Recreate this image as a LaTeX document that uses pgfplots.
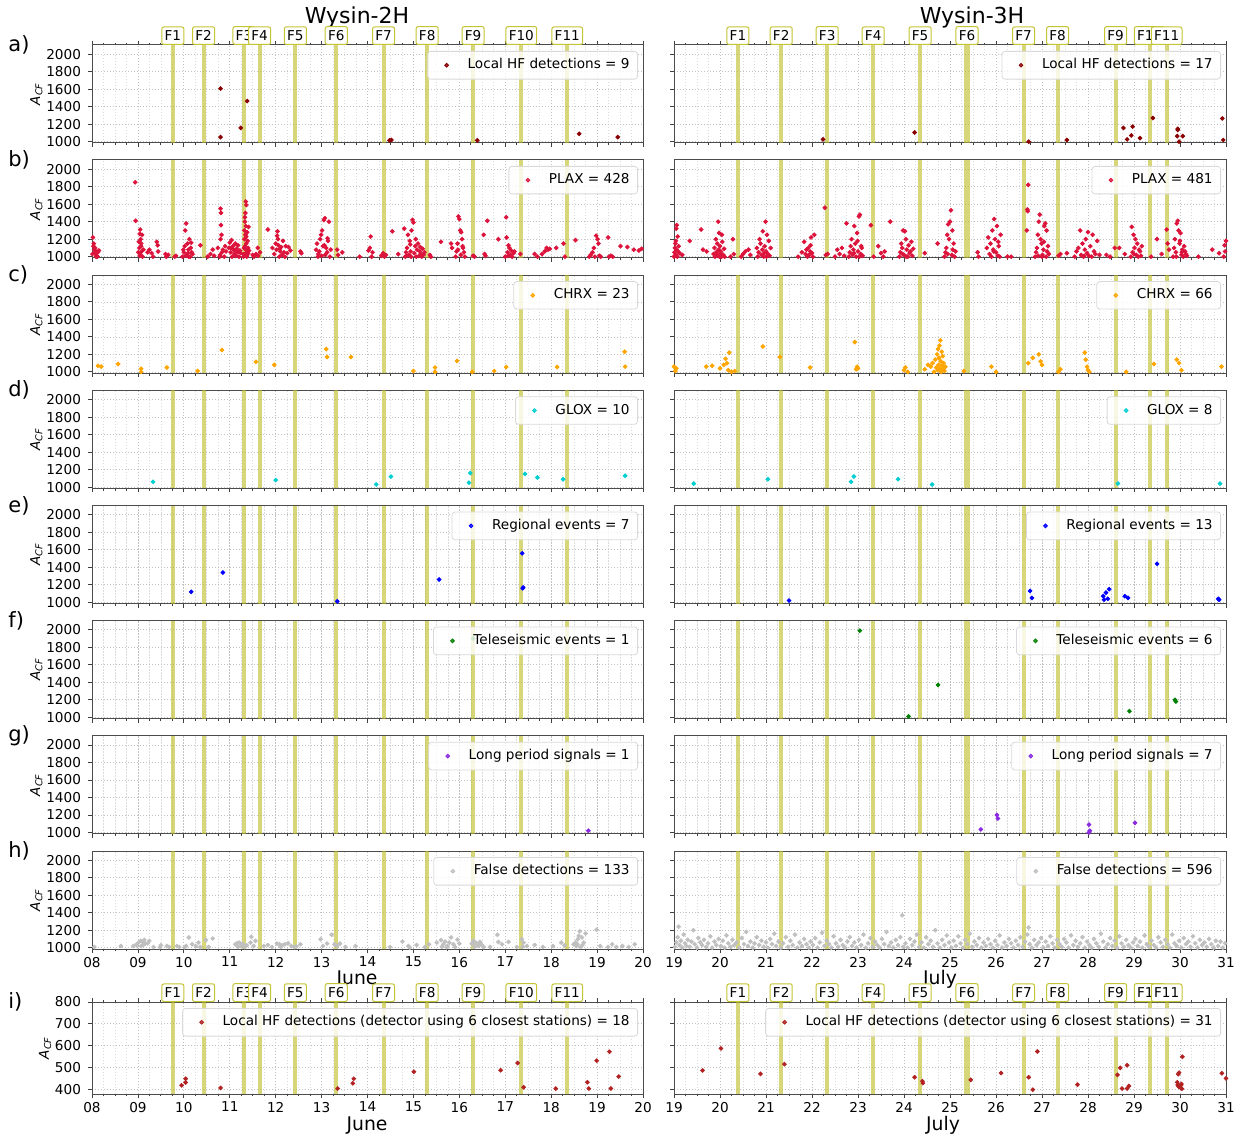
\documentclass[border=0pt]{standalone}
\usepackage{fontspec}
\setmainfont{DejaVu Sans}
\usepackage{pgfplots}
\pgfplotsset{compat=1.18}

\definecolor{hfred}{RGB}{139,0,0}
\definecolor{plax}{RGB}{220,20,60}
\definecolor{chrx}{RGB}{255,165,0}
\definecolor{glox}{RGB}{0,206,209}
\definecolor{regio}{RGB}{0,0,255}
\definecolor{teles}{RGB}{0,128,0}
\definecolor{lper}{RGB}{138,43,226}
\definecolor{fals}{RGB}{192,192,192}
\definecolor{hfsix}{RGB}{178,34,34}
\definecolor{bandc}{RGB}{188,189,34}
\definecolor{flabc}{RGB}{196,196,52}

\newcommand\fsTick{\fontsize{6.8}{8}\selectfont}
\newcommand\fsTitle{\fontsize{11}{13}\selectfont}
\newcommand\fsLetter{\fontsize{10.5}{12}\selectfont}
\newcommand\fsMonth{\fontsize{9.4}{11}\selectfont}
\newcommand\acf{\textit{A}\textsubscript{\textit{CF}}}

\tikzset{
  flab/.style={draw=flabc, line width=0.5pt, fill=white, rounded corners=1pt,
    inner xsep=1.4pt, inner ysep=1.9pt, anchor=south, font=\fsTick},
}
\pgfplotsset{
  panel/.style={
    scale only axis, clip mode=individual,
    minor x tick num=3, minor y tick num=0,
    grid=both,
    major grid style={line width=0.35pt, black!24, dash pattern=on 0.7pt off 0.8pt},
    minor grid style={line width=0.3pt, black!14, dash pattern=on 0.7pt off 0.8pt},
    axis line style={line width=0.5pt, black!70},
    every tick/.style={black!75, line width=0.4pt},
    tick align=outside, major tick length=2pt, minor tick length=1.2pt,
    xtick pos=bottom, ytick pos=left,
    tick label style={font=\fsTick},
    xticklabel style={yshift=1.5pt},
    xticklabels={},
    ylabel style={font=\fsTick}, ylabel shift=-5pt,
    legend style={at={(1,1)}, anchor=north east, xshift=-2.5pt, yshift=-3pt,
      draw=black!15, rounded corners=1.5pt, fill=white, fill opacity=0.8,
      text opacity=1, font=\fsTick, inner xsep=2pt, inner ysep=1.6pt},
    legend cell align=left,
    legend image code/.code={%
      \path[draw=none, fill=none] (0pt,-2pt) rectangle (16pt,2pt);
      \draw[#1] plot coordinates {(7.5pt,0pt)};},
  },
  junecol/.style={panel, xmin=8, xmax=20, xtick={8,...,20}, width=275.5pt},
  julycol/.style={panel, xmin=19, xmax=31, xtick={19,...,31}, width=276pt,
    yticklabels={}},
  acf/.style={ymin=985, ymax=2105, ytick={1000,1200,...,2000}, height=49pt},
  acfL/.style={acf, yticklabels={1000,1200,1400,1600,1800,2000}, ylabel={\acf}},
  sixst/.style={ymin=378, ymax=800, ytick={400,500,...,800}, height=46pt},
  pts/.style={only marks, mark=*, mark size=0.95pt},
}

% event windows F1--F11
\newcommand\juneBands[2]{%
  \fill[bandc, opacity=0.6] (axis cs:9.715,#1) rectangle (axis cs:9.805,#2);
  \fill[bandc, opacity=0.6] (axis cs:10.385,#1) rectangle (axis cs:10.475,#2);
  \fill[bandc, opacity=0.6] (axis cs:11.265,#1) rectangle (axis cs:11.355,#2);
  \fill[bandc, opacity=0.6] (axis cs:11.605,#1) rectangle (axis cs:11.695,#2);
  \fill[bandc, opacity=0.6] (axis cs:12.385,#1) rectangle (axis cs:12.475,#2);
  \fill[bandc, opacity=0.6] (axis cs:13.275,#1) rectangle (axis cs:13.365,#2);
  \fill[bandc, opacity=0.6] (axis cs:14.305,#1) rectangle (axis cs:14.395,#2);
  \fill[bandc, opacity=0.6] (axis cs:15.255,#1) rectangle (axis cs:15.345,#2);
  \fill[bandc, opacity=0.6] (axis cs:16.255,#1) rectangle (axis cs:16.345,#2);
  \fill[bandc, opacity=0.6] (axis cs:17.305,#1) rectangle (axis cs:17.395,#2);
  \fill[bandc, opacity=0.6] (axis cs:18.305,#1) rectangle (axis cs:18.395,#2);
}
\newcommand\julyBands[2]{%
  \fill[bandc, opacity=0.6] (axis cs:20.345,#1) rectangle (axis cs:20.435,#2);
  \fill[bandc, opacity=0.6] (axis cs:21.285,#1) rectangle (axis cs:21.375,#2);
  \fill[bandc, opacity=0.6] (axis cs:22.285,#1) rectangle (axis cs:22.375,#2);
  \fill[bandc, opacity=0.6] (axis cs:23.285,#1) rectangle (axis cs:23.375,#2);
  \fill[bandc, opacity=0.6] (axis cs:24.300,#1) rectangle (axis cs:24.400,#2);
  \fill[bandc, opacity=0.6] (axis cs:25.310,#1) rectangle (axis cs:25.430,#2);
  \fill[bandc, opacity=0.6] (axis cs:26.555,#1) rectangle (axis cs:26.645,#2);
  \fill[bandc, opacity=0.6] (axis cs:27.295,#1) rectangle (axis cs:27.385,#2);
  \fill[bandc, opacity=0.6] (axis cs:28.555,#1) rectangle (axis cs:28.645,#2);
  \fill[bandc, opacity=0.6] (axis cs:29.295,#1) rectangle (axis cs:29.385,#2);
  \fill[bandc, opacity=0.6] (axis cs:29.665,#1) rectangle (axis cs:29.755,#2);
}
\newcommand\juneLabels[1]{%
  \node[flab] at (axis cs:9.76,#1) {F1};
  \node[flab] at (axis cs:10.43,#1) {F2};
  \node[flab] at (axis cs:11.31,#1) {F3};
  \node[flab] at (axis cs:11.65,#1) {F4};
  \node[flab] at (axis cs:12.43,#1) {F5};
  \node[flab] at (axis cs:13.32,#1) {F6};
  \node[flab] at (axis cs:14.35,#1) {F7};
  \node[flab] at (axis cs:15.30,#1) {F8};
  \node[flab] at (axis cs:16.30,#1) {F9};
  \node[flab] at (axis cs:17.35,#1) {F10};
  \node[flab] at (axis cs:18.35,#1) {F11};
}
\newcommand\julyLabels[1]{%
  \node[flab] at (axis cs:20.39,#1) {F1};
  \node[flab] at (axis cs:21.33,#1) {F2};
  \node[flab] at (axis cs:22.33,#1) {F3};
  \node[flab] at (axis cs:23.33,#1) {F4};
  \node[flab] at (axis cs:24.35,#1) {F5};
  \node[flab] at (axis cs:25.37,#1) {F6};
  \node[flab] at (axis cs:26.60,#1) {F7};
  \node[flab] at (axis cs:27.34,#1) {F8};
  \node[flab] at (axis cs:28.60,#1) {F9};
  \node[flab] at (axis cs:29.34,#1) {F10};
  \node[flab] at (axis cs:29.71,#1) {F11};
}

\begin{document}
\begin{tikzpicture}
\useasboundingbox (0,0) rectangle (622.5pt,568pt);

% titles, panel letters and month labels
\node[font=\fsTitle] at (178.5pt,559.5pt) {Wysin-2H};
\node[font=\fsTitle] at (486pt,559.5pt) {Wysin-3H};
\foreach \l/\y in {a/545.5, b/488, c/430.4, d/372.8, e/315.2, f/257.7, g/200.1, h/142.5, i/67}
  \node[font=\fsLetter, anchor=west, inner sep=0pt] at (4pt,\y pt) {\l)};
\node[font=\fsMonth] at (178.5pt,78.3pt) {June};
\node[font=\fsMonth] at (470pt,78.3pt) {July};
\node[font=\fsMonth] at (183.5pt,5.2pt) {June};
\node[font=\fsMonth] at (471.5pt,5.2pt) {July};

% ---------------- a) local HF detections
\begin{axis}[junecol, acfL, xtick pos=both, at={(46pt,545.5pt)}, anchor=north west]
\juneBands{985}{2105}
\juneLabels{2105}
\addplot[pts, hfred] coordinates {(10.80,1607) (10.80,1052) (11.24,1157) (11.38,1464)
  (14.48,1015) (14.52,1020) (16.39,1015) (18.61,1090) (19.45,1052)};
\addlegendentry{Local HF detections = 9}
\end{axis}
\begin{axis}[julycol, acf, xtick pos=both, at={(337pt,545.5pt)}, anchor=north west]
\julyBands{985}{2105}
\julyLabels{2105}
\addplot[pts, hfred] coordinates {(22.24,1026) (24.23,1105) (26.71,1000) (27.54,1019)
  (28.77,1157) (28.97,1172) (28.85,1026) (28.94,1071) (29.13,1041) (29.41,1270)
  (29.95,1146) (29.95,1135) (29.94,1064) (30.06,1064) (29.98,1000) (30.92,1266) (30.94,1019)};
\addlegendentry{Local HF detections = 17}
\end{axis}

% ---------------- b) PLAX
\begin{axis}[junecol, acfL, at={(46pt,488pt)}, anchor=north west]
\juneBands{985}{2105}
\addplot[pts, plax] coordinates {
(8.02,1220) (8.03,1120) (8.05,1080) (8.06,1040) (8.08,1060) (8.10,1010) (8.12,1000) (8.04,1150)
(8.07,1100) (8.13,1050) (8.01,1030) (8.09,1000) (8.15,1070)
(8.94,1850) (8.95,1410)
(9.02,1170) (9.04,1260) (9.05,1310) (9.06,1200) (9.07,1150) (9.03,1100) (9.08,1060) (9.05,1030)
(9.10,1000) (9.09,1250) (9.01,1050) (9.12,1080) (9.07,1120) (9.04,1010)
(9.21,1050) (9.25,1080) (9.30,1040) (9.33,1000) (9.41,1170) (9.43,1130) (9.44,1060)
(9.60,1030) (9.62,1000) (9.66,1020) (9.80,1000) (9.83,1010)
(9.97,1000) (10.00,1050) (10.02,1120) (10.03,1300) (10.05,1380) (10.06,1020) (10.08,1150)
(10.10,1080) (10.12,1200) (10.14,1000) (10.15,1100) (10.17,1050) (10.19,1030) (10.04,1010)
(10.09,1040) (10.11,1000) (10.16,1160) (9.99,1080)
(10.36,1130) (10.52,1000) (10.58,1030) (10.63,1080) (10.66,1010)
(10.74,1100) (10.78,1000) (10.80,1550) (10.81,1500) (10.81,1360) (10.82,1250) (10.80,1200)
(10.83,1050) (10.85,1080) (10.79,1020) (10.88,1000) (10.90,1120) (10.92,1060)
(10.98,1100) (11.00,1160) (11.02,1050) (11.04,1190) (11.05,1000) (11.07,1120) (11.08,1080)
(11.10,1030) (11.12,1150) (11.13,1010) (11.15,1090) (11.17,1050) (11.18,1130) (11.20,1000)
(11.22,1070) (11.24,1040) (11.03,1100) (11.11,1070)
(11.30,1000) (11.31,1100) (11.32,1200) (11.32,1300) (11.33,1400) (11.33,1450) (11.34,1500)
(11.35,1630) (11.36,1590) (11.35,1350) (11.34,1250) (11.36,1150) (11.37,1050) (11.38,1280)
(11.38,1020) (11.39,1180) (11.40,1100) (11.41,1340) (11.42,1070) (11.31,1030) (11.33,1120)
(11.36,1230) (11.37,1000) (11.40,1040) (11.35,1080)
(11.50,1020) (11.53,1000) (11.57,1030) (11.61,1100) (11.62,1010) (11.66,1050) (11.83,1310)
(11.93,1100) (11.97,1030) (12.00,1150) (12.02,1080) (12.04,1290) (12.05,1200) (12.06,1130)
(12.08,1000) (12.10,1060) (12.12,1110) (12.14,1020) (12.16,1180) (12.18,1050) (12.20,1000)
(12.22,1120) (12.25,1040) (12.03,1240) (12.09,1090) (12.28,1110) (12.32,1070)
(12.54,1060) (12.56,1040)
(12.88,1080) (12.90,1150) (12.92,1000) (12.95,1060) (12.97,1200) (12.99,1250) (13.01,1300)
(13.03,1120) (13.05,1420) (13.07,1440) (13.08,1020) (13.10,1100) (13.12,1050) (13.14,1180)
(13.16,1400) (13.18,1000) (13.20,1080) (12.93,1030) (13.00,1010) (13.06,1130) (13.13,1210)
(13.34,1080) (13.36,1020) (13.45,1050) (13.83,1000)
(14.02,1070) (14.05,1100) (14.07,1230) (14.09,1000) (14.11,1050)
(14.30,1010) (14.34,1040) (14.37,1000) (14.40,1020) (14.54,1290) (14.67,1030)
(14.80,1320) (14.82,1000) (14.84,1050) (14.86,1100) (14.88,1250) (14.90,1020) (14.92,1180)
(14.94,1060) (14.96,1300) (14.98,1420) (15.00,1390) (15.02,1040) (15.04,1120) (15.06,1000)
(15.08,1080) (15.10,1150) (15.12,1010) (15.14,1060) (15.16,1030) (15.18,1000) (15.20,1090)
(15.22,1020) (15.24,1050) (14.85,1010) (14.95,1000) (15.05,1200) (15.15,1110) (14.93,1140)
(15.36,1020) (15.38,1000) (15.60,1170) (15.82,1150) (15.84,1100)
(15.92,1000) (15.94,1060) (15.96,1150) (15.98,1460) (16.00,1430) (16.02,1300) (16.04,1280)
(16.06,1200) (16.08,1100) (16.10,1050) (16.12,1000) (15.97,1080) (16.03,1020) (16.07,1120)
(16.30,1010) (16.33,1000) (16.53,1250) (16.55,1030) (16.57,1010) (16.61,1410) (16.85,1200)
(17.00,1000) (17.02,1450) (17.03,1220) (17.05,1050) (17.07,1130) (17.09,1100) (17.11,1020)
(17.13,1070) (17.15,1000) (17.18,1040) (17.20,1060) (17.06,1010) (17.33,1030)
(17.64,1030) (17.70,1000) (17.80,1030) (17.86,1060) (17.90,1100) (17.93,1080) (17.97,1090)
(18.11,1100) (18.27,1150) (18.30,1000) (18.53,1190)
(18.83,1000) (18.86,1020) (18.90,1050) (18.93,1100) (18.95,1000) (18.98,1240) (19.01,1200)
(19.03,1150) (19.05,1010) (19.08,1000) (19.24,1220) (19.26,1000) (19.30,1010) (19.34,1000)
(19.51,1120) (19.66,1110) (19.80,1080) (19.91,1070) (19.97,1090)};
\addlegendentry{PLAX = 428}
\end{axis}
\begin{axis}[julycol, acf, at={(337pt,488pt)}, anchor=north west]
\julyBands{985}{2105}
\addplot[pts, plax] coordinates {
(19.00,1000) (19.01,1050) (19.02,1100) (19.03,1150) (19.04,1020) (19.05,1080) (19.06,1360)
(19.05,1320) (19.08,1230) (19.07,1000) (19.09,1060) (19.10,1120) (19.02,1010) (19.04,1180)
(19.12,1040) (19.18,1020) (19.34,1180) (19.59,1310) (19.63,1080) (19.71,1060)
(19.86,1030) (19.88,1100) (19.89,1000) (19.91,1200) (19.92,1050) (19.94,1150) (19.95,1010)
(19.96,1400) (19.97,1080) (19.98,1270) (19.99,1000) (20.00,1120) (20.01,1040) (20.02,1060)
(20.03,1000) (20.05,1170) (20.07,1020) (20.09,1090) (20.10,1000) (19.93,1030) (20.04,1250)
(20.23,1000) (20.28,1200) (20.30,1030) (20.46,1000) (20.50,1030) (20.55,1060) (20.62,1080)
(20.66,1020)
(20.80,1100) (20.82,1000) (20.84,1050) (20.86,1200) (20.88,1150) (20.90,1020) (20.92,1080)
(20.93,1290) (20.95,1000) (20.97,1120) (20.99,1400) (21.00,1060) (21.02,1250) (21.04,1030)
(21.06,1180) (21.08,1010) (21.10,1100) (20.96,1040) (21.01,1000)
(21.70,1000) (21.78,1050) (21.83,1170) (21.86,1030) (21.88,1080) (21.90,1000) (21.92,1100)
(21.94,1020) (21.96,1060) (21.98,1220) (22.00,1040) (22.02,1000) (22.05,1250) (21.89,1010)
(21.97,1130)
(22.28,1560) (22.30,1020) (22.34,1030) (22.50,1000) (22.55,1080) (22.60,1030) (22.65,1100)
(22.70,1010) (22.75,1380)
(22.80,1000) (22.82,1050) (22.84,1120) (22.86,1200) (22.88,1020) (22.90,1080) (22.92,1350)
(22.94,1150) (22.96,1000) (22.98,1270) (23.00,1060) (23.02,1460) (23.04,1480) (23.06,1030)
(23.08,1100) (23.10,1010) (22.91,1040) (22.99,1180) (23.03,1000) (23.07,1120)
(23.28,1360) (23.34,1000) (23.44,1120) (23.50,1040) (23.55,1000) (23.58,1060) (23.70,1400)
(23.90,1000) (23.92,1050) (23.94,1150) (23.96,1100) (23.98,1300) (24.00,1020) (24.02,1290)
(24.04,1200) (24.06,1080) (24.08,1000) (24.10,1130) (24.12,1040) (24.14,1060) (24.16,1170)
(24.18,1010) (24.20,1090) (23.97,1030) (24.05,1000)
(24.45,1040) (24.73,1150)
(24.88,1000) (24.90,1050) (24.92,1100) (24.94,1250) (24.96,1370) (24.98,1200) (25.00,1400)
(25.02,1530) (25.04,1020) (25.06,1080) (25.08,1150) (25.10,1000) (25.12,1060) (24.95,1030)
(25.05,1300)
(25.60,1050) (25.62,1000)
(25.80,1100) (25.83,1220) (25.86,1030) (25.88,1150) (25.90,1000) (25.92,1300) (25.94,1080)
(25.96,1430) (25.98,1200) (26.00,1050) (26.02,1350) (26.04,1010) (26.06,1120) (26.08,1000)
(26.10,1250) (25.95,1060) (26.05,1170)
(26.25,1000) (26.33,1000) (26.67,1300) (26.68,1540) (26.69,1520) (26.70,1820)
(26.85,1000) (26.87,1050) (26.89,1100) (26.91,1250) (26.93,1400) (26.95,1480) (26.97,1200)
(26.99,1150) (27.01,1020) (27.03,1080) (27.05,1350) (27.07,1380) (27.09,1000) (27.11,1060)
(27.13,1120) (27.15,1030) (26.92,1010) (27.00,1000) (27.04,1170) (27.10,1300)
(27.36,1010) (27.40,1030) (27.54,1040)
(27.71,1000) (27.75,1060) (27.79,1100) (27.83,1300) (27.85,1020) (27.88,1150) (27.90,1000)
(27.93,1080) (27.95,1200) (27.98,1040) (28.00,1280) (28.02,1010) (28.05,1120) (28.08,1000)
(28.10,1250) (28.13,1060) (28.16,1030) (28.20,1180) (28.25,1020) (27.92,1010)
(28.40,1020) (28.48,1000) (28.58,1100) (28.68,1100) (28.80,1030)
(28.93,1000) (28.95,1340) (28.97,1050) (28.99,1250) (29.01,1100) (29.03,1200) (29.05,1020)
(29.07,1150) (29.09,1000) (29.11,1080) (29.13,1060) (29.15,1010) (29.17,1120) (29.00,1030)
(29.37,1000) (29.50,1200) (29.60,1030) (29.71,1310) (29.73,1150) (29.76,1080)
(29.85,1000) (29.87,1100) (29.89,1200) (29.91,1050) (29.93,1380) (29.95,1410) (29.97,1300)
(29.99,1150) (30.01,1270) (30.03,1020) (30.05,1080) (30.07,1000) (30.09,1120) (30.11,1060)
(30.13,1030) (30.15,1010) (29.92,1000) (30.00,1180) (30.04,1050)
(30.40,1000) (30.70,1080) (30.85,1040) (30.95,1000) (30.97,1130) (31.00,1180) (30.98,1060)};
\addlegendentry{PLAX = 481}
\end{axis}

% ---------------- c) CHRX
\begin{axis}[junecol, acfL, at={(46pt,430.4pt)}, anchor=north west]
\juneBands{985}{2105}
\addplot[pts, chrx] coordinates {(8.13,1070) (8.20,1060) (8.57,1090) (9.07,1035) (9.07,1000)
  (9.63,1050) (10.30,1010) (10.83,1250) (11.57,1115) (11.97,1080) (13.10,1260) (13.12,1170)
  (13.64,1170) (15.00,1010) (15.47,1050) (15.47,1000) (15.95,1125) (16.28,1000) (16.76,1010)
  (17.02,1055) (18.13,1055) (19.60,1230) (19.61,1060)};
\addlegendentry{CHRX = 23}
\end{axis}
\begin{axis}[julycol, acf, at={(337pt,430.4pt)}, anchor=north west]
\julyBands{985}{2105}
\addplot[pts, chrx] coordinates {(19.00,1060) (19.03,1010) (19.05,1040) (19.70,1060)
  (19.83,1070) (20.00,1040) (20.08,1080) (20.12,1150) (20.15,1100) (20.18,1020) (20.20,1220)
  (20.25,1000) (20.32,1010) (20.93,1290) (21.30,1170) (21.96,1050) (22.93,1340) (22.96,1030)
  (22.98,1060) (23.00,1040) (24.00,1020) (24.03,1050) (24.08,1000) (24.45,1030) (24.52,1080)
  (24.58,1060) (24.62,1100) (24.65,1000) (24.68,1140) (24.70,1050) (24.72,1200) (24.73,1020)
  (24.74,1260) (24.75,1080) (24.76,1160) (24.77,1300) (24.78,1040) (24.79,1360) (24.80,1120)
  (24.81,1000) (24.82,1230) (24.83,1070) (24.84,1180) (24.85,1030) (24.86,1100) (24.88,1010)
  (24.90,1060) (25.30,1010) (25.90,1060) (26.00,1000) (26.70,1100) (26.80,1160) (26.93,1200)
  (26.97,1120) (27.00,1080) (27.36,1000) (27.40,1030) (27.93,1220) (27.95,1140) (27.98,1060)
  (28.00,1020) (28.03,1000) (28.83,1000) (29.43,1090) (29.93,1140) (29.98,1100) (30.03,1020)
  (30.90,1060)};
\addlegendentry{CHRX = 66}
\end{axis}

% ---------------- d) GLOX
\begin{axis}[junecol, acfL, at={(46pt,372.8pt)}, anchor=north west]
\juneBands{985}{2105}
\addplot[pts, glox] coordinates {(9.33,1060) (12.00,1080) (14.19,1030) (14.51,1120)
  (16.24,1160) (16.21,1050) (17.43,1150) (17.70,1110) (18.26,1090) (19.61,1130)};
\addlegendentry{GLOX = 10}
\end{axis}
\begin{axis}[julycol, acf, at={(337pt,372.8pt)}, anchor=north west]
\julyBands{985}{2105}
\addplot[pts, glox] coordinates {(19.43,1040) (21.04,1090) (22.85,1060) (22.91,1120)
  (23.87,1090) (24.61,1030) (28.65,1040) (30.87,1040)};
\addlegendentry{GLOX = 8}
\end{axis}

% ---------------- e) regional events
\begin{axis}[junecol, acfL, at={(46pt,315.2pt)}, anchor=north west]
\juneBands{985}{2105}
\addplot[pts, regio] coordinates {(10.16,1120) (10.85,1340) (13.34,1010) (15.56,1260)
  (17.37,1560) (17.39,1170) (17.38,1160)};
\addlegendentry{Regional events = 7}
\end{axis}
\begin{axis}[julycol, acf, at={(337pt,315.2pt)}, anchor=north west]
\julyBands{985}{2105}
\addplot[pts, regio] coordinates {(21.50,1020) (26.74,1130) (26.78,1050) (28.33,1070)
  (28.39,1110) (28.46,1150) (28.43,1040) (28.35,1030) (28.80,1070) (28.87,1050) (29.50,1440)
  (30.83,1040) (30.85,1030)};
\addlegendentry{Regional events = 13}
\end{axis}

% ---------------- f) teleseismic events
\begin{axis}[junecol, acfL, at={(46pt,257.7pt)}, anchor=north west]
\juneBands{985}{2105}
\addplot[pts, teles] coordinates {(16.30,1900)};
\addlegendentry{Teleseismic events = 1}
\end{axis}
\begin{axis}[julycol, acf, at={(337pt,257.7pt)}, anchor=north west]
\julyBands{985}{2105}
\addplot[pts, teles] coordinates {(23.04,1990) (24.74,1370) (24.10,1010) (28.90,1070)
  (29.89,1200) (29.91,1180)};
\addlegendentry{Teleseismic events = 6}
\end{axis}

% ---------------- g) long period signals
\begin{axis}[junecol, acfL, at={(46pt,200.1pt)}, anchor=north west]
\juneBands{985}{2105}
\addplot[pts, lper] coordinates {(18.81,1020)};
\addlegendentry{Long period signals = 1}
\end{axis}
\begin{axis}[julycol, acf, at={(337pt,200.1pt)}, anchor=north west]
\julyBands{985}{2105}
\addplot[pts, lper] coordinates {(25.67,1035) (26.02,1200) (26.04,1160) (28.02,1090)
  (28.04,1020) (28.02,1000) (29.02,1110)};
\addlegendentry{Long period signals = 7}
\end{axis}

% ---------------- h) false detections
\begin{axis}[junecol, acfL, at={(46pt,142.5pt)}, anchor=north west,
  xticklabels={08,09,10,11,12,13,14,15,16,17,18,19,20}]
\juneBands{985}{2105}
\addplot[pts, fals] coordinates {
(8.05,1008) (8.63,1019) (8.90,1019) (8.97,1039) (9.01,1058) (9.06,1078) (9.10,1066) (9.14,1089)
(9.16,1047) (9.07,1019) (8.99,1019) (9.21,1051) (9.25,1078) (9.34,1008) (9.50,1027) (9.63,1019)
(9.68,1008) (9.85,1019) (9.90,1008) (10.05,1019) (10.11,1117) (10.18,1039) (10.26,1019)
(10.32,1058) (10.36,1008) (10.48,1089) (10.54,1008) (10.63,1105) (11.12,1039) (11.16,1051)
(11.21,1058) (11.25,1019) (11.29,1039) (11.32,1008) (11.37,1027) (11.45,1058) (11.47,1124)
(11.52,1019) (11.56,1078) (11.74,1019) (11.83,1031) (11.92,1008) (12.03,1047) (12.08,1039)
(12.14,1027) (12.20,1039) (12.27,1051) (12.34,1019) (12.40,1008) (12.54,1039) (12.98,1097)
(13.03,1019) (13.12,1047) (13.22,1148) (13.28,1039) (13.34,1019) (13.40,1047) (13.52,1008)
(13.74,1019) (14.49,1008) (14.76,1070) (14.89,1019) (15.07,1031) (15.25,1008) (15.34,1039)
(15.51,1058) (15.60,1086) (15.65,1039) (15.69,1070) (15.74,1019) (15.78,1058) (15.82,1117)
(15.87,1039) (15.91,1008) (15.96,1093) (16.00,1047) (16.27,1047) (16.31,1078) (16.36,1058)
(16.40,1039) (16.45,1066) (16.49,1031) (16.53,1008) (16.67,1008) (16.83,1148) (16.85,1066)
(16.93,1039) (17.07,1066) (17.25,1008) (17.36,1097) (17.40,1058) (17.47,1019) (17.64,1031)
(17.82,1008) (18.04,1019) (18.22,1058) (18.29,1027) (18.49,1039) (18.53,1058) (18.58,1097)
(18.60,1136) (18.62,1187) (18.67,1117) (18.71,1058) (18.55,1019) (18.75,1163) (18.64,1008)
(18.99,1206) (19.07,1019) (19.24,1008) (19.33,1039) (19.42,1008) (19.55,1019) (19.69,1008)
(19.82,1039) (9.12,1030) (11.18,1010) (11.27,1045) (15.72,1005) (16.33,1012) (18.57,1040)
(10.02,1005) (12.11,1010) (13.30,1030) (15.62,1010) (16.42,1020) (17.38,1010) (18.68,1030)
(14.92,1000) (12.45,1015) (9.48,1005)};
\addlegendentry{False detections = 133}
\end{axis}
\begin{axis}[julycol, acf, at={(337pt,142.5pt)}, anchor=north west,
  xticklabels={19,20,21,22,23,24,25,26,27,28,29,30,31}]
\julyBands{985}{2105}
\addplot[pts, fals] coordinates {
(19.02,1010) (19.05,1060) (19.08,1120) (19.10,1240) (19.12,1030) (19.15,1080) (19.18,1000)
(19.21,1150) (19.24,1050) (19.27,1020) (19.30,1090) (19.34,1010) (19.38,1070) (19.42,1200)
(19.45,1040) (19.50,1000) (19.53,1110) (19.57,1060) (19.61,1030) (19.65,1090) (19.70,1010)
(19.74,1050) (19.79,1130) (19.83,1000) (19.88,1070) (19.92,1030) (19.97,1100)
(20.02,1020) (20.06,1080) (20.10,1000) (20.14,1140) (20.18,1050) (20.23,1010) (20.27,1090)
(20.31,1030) (20.36,1060) (20.42,1000) (20.47,1110) (20.52,1040) (20.57,1180) (20.61,1020)
(20.66,1070) (20.71,1000) (20.75,1050) (20.80,1120) (20.85,1030) (20.90,1080) (20.95,1010)
(21.00,1060) (21.04,1000) (21.09,1100) (21.13,1040) (21.18,1160) (21.22,1020) (21.27,1070)
(21.32,1000) (21.37,1050) (21.43,1120) (21.48,1010) (21.53,1080) (21.58,1030) (21.63,1150)
(21.68,1000) (21.73,1060) (21.78,1020) (21.83,1100) (21.88,1040) (21.93,1000) (21.97,1070)
(22.02,1030) (22.07,1110) (22.12,1000) (22.17,1060) (22.22,1170) (22.27,1020) (22.32,1080)
(22.37,1040) (22.42,1000) (22.47,1130) (22.52,1050) (22.57,1010) (22.62,1090) (22.67,1030)
(22.72,1000) (22.77,1070) (22.82,1120) (22.87,1020) (22.92,1060) (22.97,1000)
(23.02,1090) (23.07,1030) (23.12,1150) (23.17,1000) (23.22,1050) (23.27,1110) (23.32,1010)
(23.37,1070) (23.42,1030) (23.47,1000) (23.52,1100) (23.57,1040) (23.62,1180) (23.67,1020)
(23.72,1060) (23.77,1000) (23.82,1090) (23.87,1030) (23.92,1120) (23.96,1370) (23.98,1010)
(24.03,1050) (24.08,1000) (24.13,1100) (24.18,1030) (24.23,1070) (24.28,1150) (24.33,1010)
(24.38,1060) (24.43,1000) (24.48,1120) (24.53,1040) (24.58,1080) (24.63,1010) (24.68,1200)
(24.73,1050) (24.78,1000) (24.83,1090) (24.88,1030) (24.93,1140) (24.98,1060)
(25.03,1000) (25.08,1080) (25.13,1020) (25.18,1130) (25.23,1050) (25.28,1000) (25.33,1090)
(25.38,1040) (25.43,1160) (25.48,1010) (25.53,1070) (25.58,1030) (25.63,1110) (25.68,1000)
(25.73,1060) (25.78,1020) (25.83,1100) (25.88,1040) (25.93,1000) (25.98,1080)
(26.03,1030) (26.08,1140) (26.13,1000) (26.18,1060) (26.23,1020) (26.28,1100) (26.33,1050)
(26.38,1000) (26.43,1080) (26.48,1030) (26.53,1120) (26.58,1010) (26.63,1070) (26.68,1150)
(26.71,1230) (26.73,1040) (26.78,1000) (26.83,1090) (26.88,1030) (26.93,1060) (26.98,1110)
(27.03,1000) (27.08,1070) (27.13,1020) (27.18,1130) (27.23,1050) (27.28,1000) (27.33,1090)
(27.38,1040) (27.43,1010) (27.48,1100) (27.53,1060) (27.58,1000) (27.63,1140) (27.68,1030)
(27.73,1080) (27.78,1010) (27.83,1050) (27.88,1120) (27.93,1000) (27.98,1070)
(28.03,1030) (28.08,1000) (28.13,1100) (28.18,1050) (28.23,1010) (28.28,1160) (28.33,1070)
(28.38,1000) (28.43,1040) (28.48,1110) (28.53,1020) (28.58,1080) (28.63,1000) (28.68,1130)
(28.73,1050) (28.78,1010) (28.83,1090) (28.88,1030) (28.93,1000) (28.98,1060)
(29.03,1100) (29.08,1020) (29.13,1070) (29.18,1000) (29.23,1140) (29.28,1040) (29.33,1010)
(29.38,1080) (29.43,1030) (29.48,1000) (29.53,1120) (29.58,1060) (29.63,1010) (29.68,1090)
(29.73,1040) (29.78,1000) (29.83,1150) (29.88,1050) (29.93,1020) (29.98,1080)
(30.03,1000) (30.08,1110) (30.13,1040) (30.18,1070) (30.23,1010) (30.28,1130) (30.33,1050)
(30.38,1000) (30.43,1090) (30.48,1030) (30.53,1060) (30.58,1010) (30.63,1100) (30.68,1040)
(30.73,1000) (30.78,1080) (30.83,1020) (30.88,1070) (30.93,1000) (30.98,1050)};
\addlegendentry{False detections = 596}
\end{axis}

% ---------------- i) local HF detections, 6 closest stations
\begin{axis}[junecol, sixst, xtick pos=both, at={(46pt,67pt)}, anchor=north west,
  yticklabels={400,500,600,700,800}, ylabel={\acf},
  xticklabels={08,09,10,11,12,13,14,15,16,17,18,19,20}]
\juneBands{378}{800}
\juneLabels{800}
\addplot[pts, hfsix] coordinates {(9.95,418) (10.04,431) (10.04,448) (10.80,406) (13.35,403)
  (13.68,427) (13.70,448) (15.01,480) (16.90,487) (17.27,520) (17.40,409) (18.10,403)
  (18.79,432) (18.82,403) (18.99,531) (19.27,572) (19.30,403) (19.47,458)};
\addlegendentry{Local HF detections (detector using 6 closest stations) = 18}
\end{axis}
\begin{axis}[julycol, sixst, xtick pos=both, at={(337pt,67pt)}, anchor=north west,
  xticklabels={19,20,21,22,23,24,25,26,27,28,29,30,31}]
\julyBands{378}{800}
\julyLabels{800}
\addplot[pts, hfsix] coordinates {(19.62,486) (20.02,587) (20.88,470) (21.40,515) (24.23,455)
  (24.40,437) (24.41,428) (25.45,443) (26.11,474) (26.71,455) (26.90,573) (26.80,398)
  (27.77,421) (28.64,466) (28.70,498) (28.85,510) (28.74,403) (28.85,403) (28.89,415)
  (29.96,469) (29.98,476) (29.94,432) (29.95,420) (29.96,415) (29.98,410) (30.03,424)
  (30.05,549) (30.04,402) (30.02,418) (30.91,473) (31.00,450)};
\addlegendentry{Local HF detections (detector using 6 closest stations) = 31}
\end{axis}
\end{tikzpicture}
\end{document}
